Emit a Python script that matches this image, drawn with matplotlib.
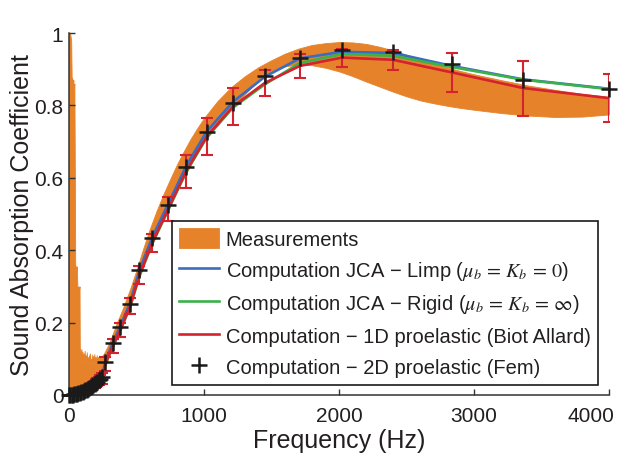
import matplotlib
matplotlib.use("Agg")
import matplotlib.pyplot as plt
import matplotlib.transforms as mtransforms

plt.rcParams['font.family'] = ['Liberation Sans', 'DejaVu Sans']
plt.rcParams['mathtext.fontset'] = 'stix'

# ---------------- data ----------------
fem_freq = [0, 10, 20, 30, 40, 50, 60, 70, 80, 90, 100, 110, 120, 130, 140, 150,
            160, 170, 180, 190, 200, 210, 220, 232, 244, 268, 325, 380, 452, 522,
            617, 735, 867, 1020, 1215, 1450, 1710, 2022, 2400, 2837, 3363, 4000]
fem_alpha = [0.0, 0.0, 0.001, 0.001, 0.002, 0.003, 0.004, 0.005, 0.006, 0.008, 0.009,
             0.011, 0.013, 0.015, 0.017, 0.019, 0.022, 0.025, 0.028, 0.031, 0.034,
             0.037, 0.041, 0.045, 0.050, 0.090, 0.144, 0.187, 0.251, 0.345, 0.434,
             0.525, 0.630, 0.727, 0.807, 0.881, 0.932, 0.952, 0.947, 0.913, 0.870, 0.845]
limp_alpha = [0.0, 0.0, 0.001, 0.001, 0.002, 0.003, 0.004, 0.005, 0.006, 0.008, 0.009,
              0.011, 0.013, 0.015, 0.017, 0.019, 0.022, 0.025, 0.028, 0.031, 0.034,
              0.037, 0.041, 0.045, 0.050, 0.091, 0.145, 0.190, 0.255, 0.345, 0.436,
              0.528, 0.632, 0.728, 0.810, 0.879, 0.930, 0.948, 0.945, 0.909, 0.872, 0.846]
rigid_alpha = [0.0, 0.0, 0.001, 0.001, 0.002, 0.003, 0.004, 0.005, 0.006, 0.007, 0.009,
               0.010, 0.012, 0.014, 0.016, 0.018, 0.021, 0.024, 0.027, 0.030, 0.033,
               0.036, 0.039, 0.043, 0.046, 0.085, 0.134, 0.178, 0.242, 0.328, 0.418,
               0.511, 0.615, 0.711, 0.794, 0.858, 0.917, 0.942, 0.937, 0.906, 0.871, 0.845]
biot_alpha = [0.0, 0.0, 0.001, 0.001, 0.002, 0.003, 0.004, 0.005, 0.006, 0.007, 0.009,
              0.010, 0.012, 0.014, 0.016, 0.018, 0.021, 0.024, 0.027, 0.030, 0.033,
              0.036, 0.039, 0.043, 0.046, 0.086, 0.136, 0.180, 0.245, 0.331, 0.421,
              0.514, 0.618, 0.714, 0.797, 0.862, 0.909, 0.932, 0.926, 0.891, 0.848, 0.820]
biot_err = [0.003, 0.003, 0.003, 0.004, 0.004, 0.004, 0.005, 0.005, 0.005, 0.006, 0.006,
            0.006, 0.007, 0.007, 0.008, 0.008, 0.008, 0.009, 0.009, 0.010, 0.010,
            0.011, 0.012, 0.013, 0.015, 0.020, 0.020, 0.020, 0.022, 0.025, 0.025,
            0.033, 0.046, 0.052, 0.050, 0.037, 0.032, 0.025, 0.027, 0.055, 0.076, 0.067]

meas_freq = [0, 4, 8, 12, 16, 20, 24, 28, 32, 36, 40, 44, 46, 50, 54, 58, 62, 66, 70,
             74, 78, 80, 84, 88, 92, 96, 100, 104, 108, 112, 116, 120, 124, 128, 132,
             136, 140, 144, 148, 152, 156, 160, 164, 168, 172, 176, 180, 184, 188, 192,
             196, 200, 205, 210, 215, 220, 225, 230, 240, 260, 300, 350, 400, 450, 500,
             550, 600, 650, 700, 750, 800, 850, 900, 950, 1000, 1100, 1200, 1300, 1400,
             1500, 1600, 1700, 1800, 1900, 2000, 2100, 2200, 2300, 2400, 2500, 2600,
             2700, 2800, 2900, 3000, 3200, 3400, 3600, 3800, 4000]
meas_upper = [1.0, 1.0, 1.0, 0.99, 0.98, 0.87, 0.875, 0.86, 0.87, 0.85, 0.86, 0.56, 0.36,
              0.355, 0.345, 0.355, 0.30, 0.295, 0.30, 0.29, 0.30, 0.13, 0.125, 0.10,
              0.127, 0.095, 0.12, 0.09, 0.115, 0.10, 0.122, 0.088, 0.11, 0.095, 0.118,
              0.09, 0.105, 0.085, 0.11, 0.092, 0.115, 0.083, 0.10, 0.09, 0.112, 0.085,
              0.108, 0.09, 0.113, 0.088, 0.105, 0.09, 0.11, 0.092, 0.105, 0.095, 0.108,
              0.10, 0.105, 0.115, 0.145, 0.195, 0.24, 0.29, 0.345, 0.405, 0.46, 0.51,
              0.555, 0.597, 0.637, 0.673, 0.707, 0.737, 0.765, 0.812, 0.850, 0.880, 0.905,
              0.925, 0.943, 0.957, 0.967, 0.972, 0.975, 0.974, 0.97, 0.962, 0.952, 0.94,
              0.928, 0.916, 0.905, 0.895, 0.886, 0.87, 0.855, 0.843, 0.832, 0.824]
meas_lower = [0.0, 0.0, 0.0, 0.0, 0.0, 0.0, 0.0, 0.0, 0.0, 0.0, 0.0, 0.0, 0.0, 0.0, 0.0,
              0.0, 0.0, 0.0, 0.0, 0.0, 0.0, 0.0, 0.0, 0.0, 0.0, 0.0, 0.0, 0.0, 0.0, 0.0,
              0.0, 0.0, 0.0, 0.0, 0.0, 0.0, 0.0, 0.0, 0.0, 0.0, 0.0, 0.0, 0.004, 0.006,
              0.008, 0.010, 0.012, 0.014, 0.016, 0.018, 0.020, 0.022, 0.025, 0.028,
              0.031, 0.034, 0.037, 0.040, 0.045, 0.070, 0.110, 0.155, 0.200, 0.245,
              0.305, 0.360, 0.405, 0.445, 0.485, 0.525, 0.565, 0.600, 0.635, 0.668,
              0.700, 0.748, 0.790, 0.830, 0.868, 0.895, 0.908, 0.913, 0.911, 0.904,
              0.894, 0.881, 0.866, 0.852, 0.838, 0.825, 0.814, 0.806, 0.799, 0.793,
              0.788, 0.779, 0.772, 0.768, 0.769, 0.775]

x_ticks = [0, 1000, 2000, 3000, 4000]
y_ticks = [0, 0.2, 0.4, 0.6, 0.8, 1.0]
y_ticklabels = ['0', '0.2', '0.4', '0.6', '0.8', '1']

labels = ['Measurements',
          'Computation JCA \u2212 Limp ($\\mu_b \\,=\\, K_b \\,=\\, 0$)',
          'Computation JCA \u2212 Rigid ($\\mu_b \\,=\\, K_b \\,=\\, \\infty$)',
          'Computation \u2212 1D proelastic (Biot Allard)',
          'Computation \u2212 2D proelastic (Fem)']

assert len(meas_freq) == len(meas_upper) == len(meas_lower)
assert len(fem_freq) == len(fem_alpha) == len(limp_alpha) == len(rigid_alpha) == len(biot_alpha) == len(biot_err)

# ---------------- style ----------------
c_orange = '#e6832a'
c_blue = '#3a6cc0'
c_green = '#3cb04a'
c_red = '#d4222e'
c_text = '#231f20'

fig = plt.figure(figsize=(6.21, 4.60), dpi=100)
ax = fig.add_axes([69 / 621, 1 - 396 / 460, 540 / 621, 362 / 460])

h_meas = ax.fill_between(meas_freq, meas_lower, meas_upper, color=c_orange, lw=0.6,
                         edgecolor=c_orange, zorder=1)
h_limp, = ax.plot(fem_freq, limp_alpha, color=c_blue, lw=1.9, zorder=2)
h_rigid, = ax.plot(fem_freq, rigid_alpha, color=c_green, lw=1.9, zorder=3)
h_biot, = ax.plot(fem_freq, biot_alpha, color=c_red, lw=1.9, zorder=4)
ax.errorbar(fem_freq, biot_alpha, yerr=biot_err, fmt='none', ecolor=c_red,
            elinewidth=1.5, capsize=4, capthick=1.5, zorder=5)
h_fem, = ax.plot(fem_freq, fem_alpha, linestyle='none', marker='+', color='#1a1a1a',
                 markersize=11, markeredgewidth=1.8, zorder=6, clip_on=False)

ax.set_xlim(0, 4000)
ax.set_ylim(0, 1)
ax.set_xticks(x_ticks)
ax.set_yticks(y_ticks)
ax.set_yticklabels(y_ticklabels)

for s in ['top', 'right']:
    ax.spines[s].set_visible(False)
for s in ['left', 'bottom']:
    ax.spines[s].set_color('#333333')
    ax.spines[s].set_linewidth(1.1)
ax.tick_params(direction='in', length=4, width=1.0, color='#333333',
               labelsize=15, labelcolor=c_text)
ax.tick_params(axis='x', pad=8)
ax.tick_params(axis='y', pad=4)

# last x tick label sits inside the figure, as in the reference
last = ax.get_xticklabels()[-1]
last.set_horizontalalignment('right')
last.set_transform(last.get_transform() +
                   mtransforms.ScaledTranslation(5 / 100, 0, fig.dpi_scale_trans))

ax.set_xlabel('Frequency (Hz)', fontsize=18, color=c_text, labelpad=2)
ax.set_ylabel('Sound Absorption Coefficient', fontsize=18, color=c_text, labelpad=0.5)

leg = ax.legend([h_meas, h_limp, h_rigid, h_biot, h_fem], labels,
                loc='lower right', bbox_to_anchor=(0.98, 0.028), borderaxespad=0,
                fontsize=14.5, frameon=True, fancybox=False, framealpha=1,
                handlelength=1.95, handleheight=1.15, handletextpad=0.35,
                labelspacing=0.5, borderpad=0.38)
leg.get_frame().set_edgecolor('#1a1a1a')
leg.get_frame().set_linewidth(1.2)
for t in leg.get_texts():
    t.set_color(c_text)

fig.savefig('out.png', dpi=100)
